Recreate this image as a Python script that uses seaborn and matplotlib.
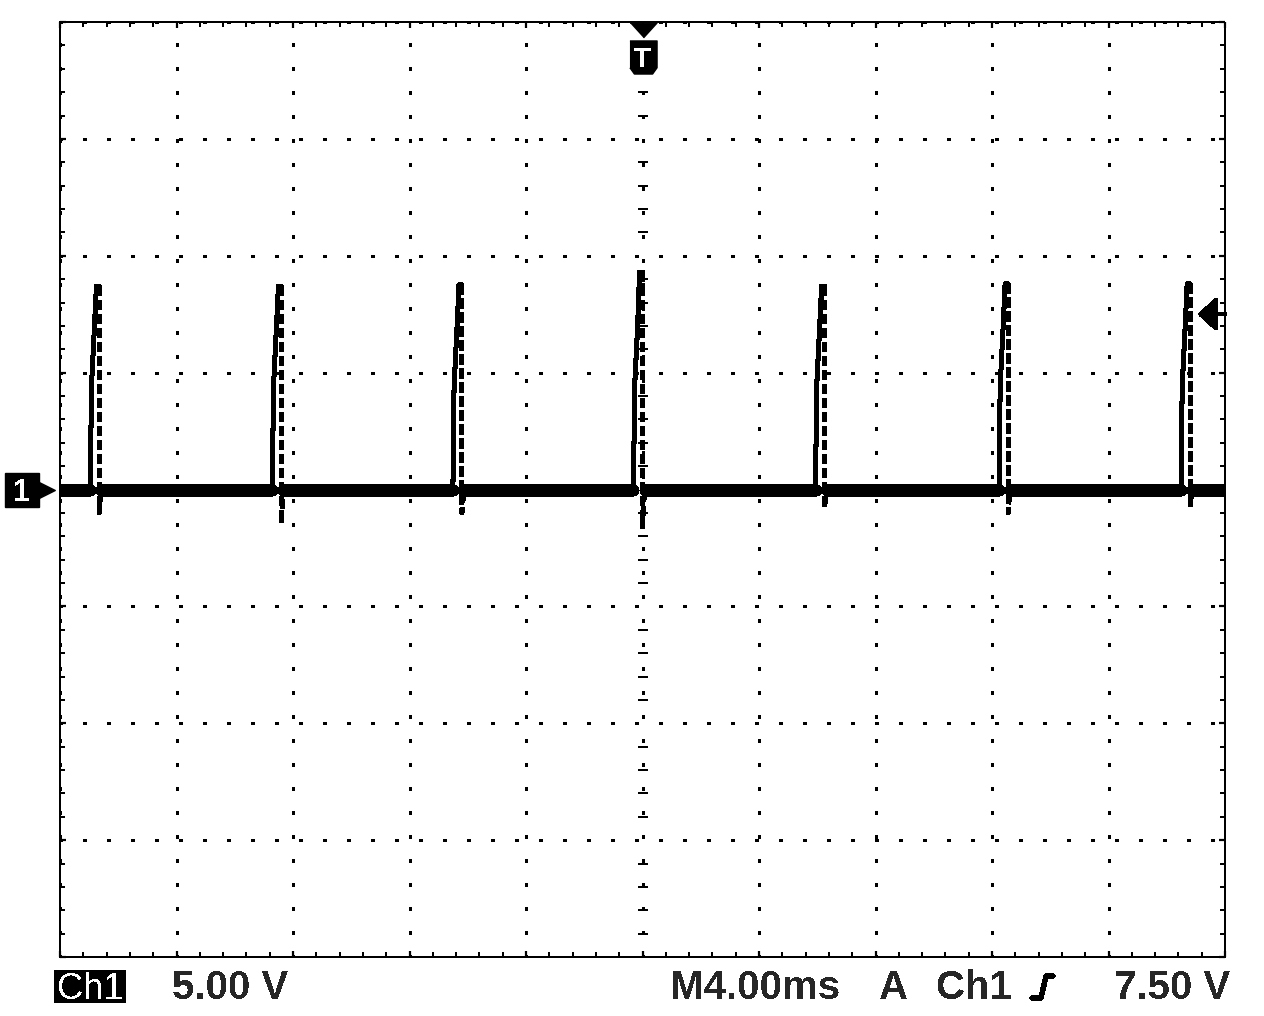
import numpy as np
import pandas as pd
import matplotlib
matplotlib.use("Agg")
import matplotlib.pyplot as plt
import matplotlib.transforms as mtransforms
from matplotlib.lines import Line2D
from matplotlib.patches import Rectangle
from matplotlib.ticker import MultipleLocator
import seaborn as sns

# scope readout
volts_per_div = 5.0
ms_per_div = 4.0
trigger_level_v = 7.50
trigger_time_ms = 0.0
readout_ch = "Ch1"
readout_scale = "5.00 V"
readout_time = "M4.00ms"
readout_trig = ["A", "Ch1", "7.50 V"]

# each pulse: time of the falling edge (ms), peak (V), undershoot (V)
pulse_fall_ms = [-18.65, -12.4, -6.2, 0.0, 6.25, 12.55, 18.8]
pulse_peak_v = [8.7, 8.7, 8.75, 9.3, 8.7, 8.8, 8.8]
pulse_undershoot_v = [-1.0, -1.45, -1.0, -1.6, -0.8, -1.0, -0.75]

# rising edge steps (offset from fall in ms, level in V)
rise_offset_ms = [-0.31, -0.27, -0.17]
rise_step_v = [0.0, 4.4, 6.9]
peak_start_ms = -0.10
baseline_resume_ms = 0.07

sns.set_style("white")
plt.rcParams["font.family"] = ["Liberation Sans", "DejaVu Sans"]
plt.rcParams["lines.antialiased"] = False
plt.rcParams["patch.antialiased"] = False
plt.rcParams["text.antialiased"] = False

# build the trace pieces
rise_rows, fall_rows = [], []
for i, (tf, pk, us) in enumerate(zip(pulse_fall_ms, pulse_peak_v, pulse_undershoot_v)):
    for dt, v in zip(rise_offset_ms, rise_step_v):
        rise_rows.append((i, tf + dt, v))
    rise_rows.append((i, tf + peak_start_ms, pk))
    rise_rows.append((i, tf, pk))
    fall_rows += [(i, tf, pk), (i, tf, us), (i, tf + baseline_resume_ms, 0.0)]
rise = pd.DataFrame(rise_rows, columns=["pulse", "t", "v"])
fall = pd.DataFrame(fall_rows, columns=["pulse", "t", "v"])

half_span = 5 * ms_per_div
seg_start = [-half_span] + [tf + baseline_resume_ms for tf in pulse_fall_ms]
seg_end = [tf + rise_offset_ms[0] for tf in pulse_fall_ms] + [half_span]
base_rows = []
for k, (a, b) in enumerate(zip(seg_start, seg_end)):
    base_rows += [(k, a, 0.0), (k, b, 0.0)]
base = pd.DataFrame(base_rows, columns=["seg", "t", "v"])

fig = plt.figure(figsize=(12.64, 10.16), dpi=100)
W, H = 1264, 1016
ax = fig.add_axes([60 / W, 1 - 957 / H, 1165 / W, 935 / H])

sns.lineplot(data=base, x="t", y="v", units="seg", estimator=None, sort=False,
             color="black", lw=8.0, ax=ax, legend=False)
sns.lineplot(data=rise, x="t", y="v", units="pulse", estimator=None, sort=False,
             color="black", lw=2.9, ax=ax, legend=False)
sns.lineplot(data=fall, x="t", y="v", units="pulse", estimator=None, sort=False,
             color="black", lw=2.6, linestyle=(0, (2.5, 1.2)), ax=ax, legend=False)

# graticule
ax.set_xlim(-half_span, half_span)
ax.set_ylim(-4 * volts_per_div, 4 * volts_per_div)
ax.xaxis.set_major_locator(MultipleLocator(ms_per_div))
ax.xaxis.set_minor_locator(MultipleLocator(ms_per_div / 5))
ax.yaxis.set_major_locator(MultipleLocator(volts_per_div))
ax.yaxis.set_minor_locator(MultipleLocator(volts_per_div / 5))
ax.grid(True, which="major", color="black", lw=2.16, linestyle=(0.5, (1, 6.79)))
ax.tick_params(which="both", direction="in", top=True, right=True, bottom=True,
               left=True, labelbottom=False, labelleft=False, color="black")
ax.tick_params(which="major", length=4, width=1.6)
ax.tick_params(which="minor", length=3.6, width=1.44)
ax.set_xlabel("")
ax.set_ylabel("")
for s in ax.spines.values():
    s.set_linestyle((0, (1.0, 1.0)))
    s.set_linewidth(1.6)
    s.set_color("black")

# small ticks along the centre crosshair
xm = ax.xaxis.get_minorticklocs()
ym = ax.yaxis.get_minorticklocs()
ax.plot(np.zeros_like(ym), ym, ls="none", marker="_", ms=7, mew=1.44, color="black")
ax.plot(xm, np.zeros_like(xm), ls="none", marker="|", ms=7, mew=1.44, color="black")

# trigger position marker on top
top_tr = mtransforms.blended_transform_factory(ax.transData, ax.transAxes)
ax.plot([trigger_time_ms], [1.0], marker=[(-1, 0.55), (1, 0.55), (0, -0.55)], ms=19.4,
        color="black", transform=mtransforms.offset_copy(top_tr, fig=fig, y=-7.5, units="dots"),
        clip_on=False)
shield = [(-0.82, 1), (0.82, 1), (0.82, -0.62), (0.55, -1), (-0.55, -1), (-0.82, -0.62)]
t_box_tr = mtransforms.offset_copy(top_tr, fig=fig, y=-(57 - 22), units="dots")
ax.plot([trigger_time_ms], [1.0], marker=shield, ms=23.8, color="black",
        transform=t_box_tr, clip_on=False)
ax.text(trigger_time_ms, 1.0, "T", transform=t_box_tr, ha="center", va="center_baseline",
        color="white", fontsize=20, fontweight="bold", clip_on=False)

# ground marker on the left
left_tr = mtransforms.blended_transform_factory(ax.transAxes, ax.transData)
box_tr = mtransforms.offset_copy(left_tr, fig=fig, x=-(60 - 22), units="dots")
arrow_tr = mtransforms.offset_copy(left_tr, fig=fig, x=-(60 - 43), units="dots")
ax.plot([0.0], [0.0], marker=[(-1, 1), (1, 0), (-1, -1)], ms=17, color="black",
        transform=arrow_tr, clip_on=False)
ax.plot([0.0], [0.0], marker="s", ms=24, color="black", transform=box_tr, clip_on=False)
ax.text(0.0, 0.0, "1", transform=box_tr, ha="center", va="center_baseline",
        color="white", fontsize=22, fontweight="bold", clip_on=False)

# trigger level arrow on the right
ax.annotate("", xy=((1198 - 60) / 1165, trigger_level_v), xycoords=left_tr,
            xytext=(1.0, trigger_level_v), textcoords=left_tr,
            arrowprops=dict(arrowstyle="-|>,head_length=1.1,head_width=1.0",
                            mutation_scale=10, lw=2.6, color="black",
                            shrinkA=0, shrinkB=0))

# readout along the bottom
fs = 29
fig.patches.append(Rectangle((54 / W, 1 - 1003 / H), 72 / W, 33 / H, transform=fig.transFigure,
                             fc="black", ec="none"))
fig.text(90 / W, 1 - 999 / H, readout_ch, ha="center", va="baseline", color="white",
         fontsize=26)
fig.text(172 / W, 1 - 999 / H, readout_scale, ha="left", va="baseline", fontsize=fs,
         fontweight="bold")
fig.text(670 / W, 1 - 999 / H, readout_time, ha="left", va="baseline", fontsize=fs,
         fontweight="bold")
for txt, x0 in zip(readout_trig, [879, 936, 1114]):
    fig.text(x0 / W, 1 - 999 / H, txt, ha="left", va="baseline", fontsize=fs,
             fontweight="bold")
# rising-edge slope glyph
edge_x = np.array([1032, 1041, 1046, 1053]) / W
edge_y = 1 - np.array([998, 998, 976, 976]) / H
fig.add_artist(Line2D(edge_x, edge_y, transform=fig.transFigure, color="black", lw=3.2))

fig.savefig("out.png", dpi=100, facecolor="white")
